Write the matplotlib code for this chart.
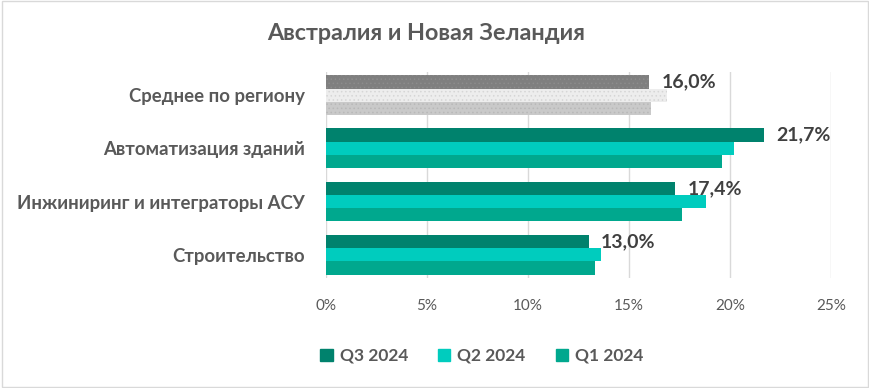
import matplotlib
matplotlib.use("Agg")
import matplotlib.pyplot as plt
import numpy as np
from matplotlib.patches import Rectangle

categories = ["Среднее по региону", "Автоматизация зданий",
              "Инжиниринг и интеграторы АСУ", "Строительство"]
series_names = ["Q3 2024", "Q2 2024", "Q1 2024"]
q3_values = [16.0, 21.7, 17.3, 13.0]
q2_values = [16.9, 20.2, 18.8, 13.6]
q1_values = [16.1, 19.6, 17.6, 13.3]
q3_labels = ["16,0%", "21,7%", "17,4%", "13,0%"]
x_ticks = [0, 5, 10, 15, 20, 25]
x_tick_labels = ["0%", "5%", "10%", "15%", "20%", "25%"]
title = "Австралия и Новая Зеландия"

colors = ["#00826D", "#00CCBE", "#00A88E"]
avg_colors = ["#7F7F7F", "#EDEDED", "#C9C9C9"]
avg_hatch_colors = ["#8C8C8C", "#D6D6D6", "#B8B8B8"]
text_color = "#595959"

plt.rcParams["font.family"] = ["Lato", "DejaVu Sans"]
plt.rcParams["hatch.linewidth"] = 0.6

fig = plt.figure(figsize=(8.7, 3.88), dpi=100)
ax = fig.add_axes([0.3747, 0.284, 0.5805, 0.530])

y = np.arange(len(categories))
bar_h = 0.25
offsets = [-bar_h, 0.0, bar_h]
all_values = [q3_values, q2_values, q1_values]

for s, (vals, off) in enumerate(zip(all_values, offsets)):
    for i, v in enumerate(vals):
        if i == 0:
            # regional average is drawn in grey with a dotted texture
            ax.barh(y[i] + off, v, height=bar_h, color=avg_colors[s],
                    edgecolor=avg_hatch_colors[s], linewidth=0, hatch="....",
                    zorder=3)
        else:
            ax.barh(y[i] + off, v, height=bar_h, color=colors[s],
                    linewidth=0, zorder=3)

for i, (v, lab) in enumerate(zip(q3_values, q3_labels)):
    ax.text(v + 0.6, y[i] - bar_h, lab, va="center", ha="left",
            fontsize=14, fontweight="bold", color="#404040", zorder=4)

ax.set_xlim(0, 25)
ax.set_ylim(3.435, -0.435)
ax.set_xticks(x_ticks)
ax.set_xticklabels(x_tick_labels, fontsize=11, color=text_color)
ax.set_yticks(y)
ax.set_yticklabels(categories, fontsize=13.4, fontweight="bold", color=text_color)
ax.tick_params(axis="both", length=0)
ax.tick_params(axis="x", pad=15)
ax.tick_params(axis="y", pad=15)
ax.grid(axis="x", color="#D9D9D9", linewidth=1.0, zorder=0)
for sp in ax.spines.values():
    sp.set_visible(False)

handles = [Rectangle((0, 0), 1, 1, color=c) for c in colors]
fig.legend(handles, series_names, loc="center", bbox_to_anchor=(0.554, 0.083),
           ncol=3, frameon=False, handlelength=0.7,
           handleheight=0.7, columnspacing=1.75, handletextpad=0.4,
           prop={"weight": "bold", "size": 12.5})
for t in fig.legends[0].get_texts():
    t.set_color(text_color)

fig.text(0.49, 0.913, title, ha="center", va="center", fontsize=16.8,
         fontweight="bold", color=text_color)

fig.patches.append(Rectangle((0.002, 0.003), 0.996, 0.994, transform=fig.transFigure,
                             fill=False, edgecolor="#D9D9D9", linewidth=1.0))

fig.savefig("out.png", dpi=100)
